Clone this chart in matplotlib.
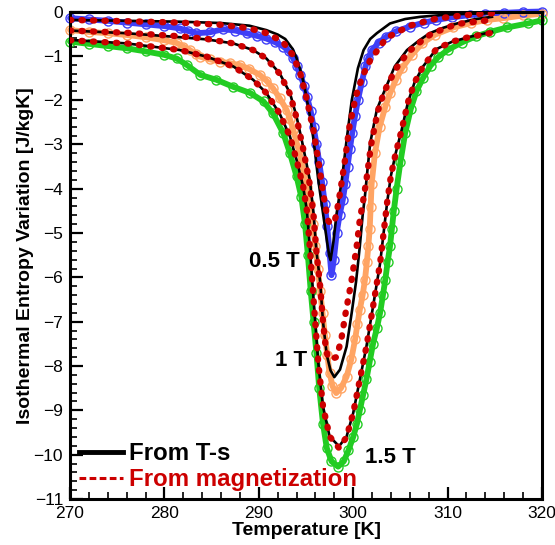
import matplotlib.pyplot as plt
from matplotlib.lines import Line2D
from matplotlib.ticker import MultipleLocator

plt.rcParams['font.family'] = ['Liberation Sans', 'DejaVu Sans']

# measured isothermal entropy change (open circles)
t_exp05 = [270, 272, 274, 276, 278, 280, 281.6, 282.5, 283.4, 284.8, 286.2, 287.5, 288.7, 289.8,
           290.8, 291.7, 292.6, 293.2, 293.65, 294.0, 294.4, 294.8, 295.1, 295.5, 295.8, 296.1,
           296.4, 296.7, 297.0, 297.25, 297.5, 297.7, 297.95, 298.25, 298.55, 298.9, 299.15,
           299.4, 299.65, 299.9, 300.2, 300.5, 300.9, 301.3, 301.6, 302.0, 302.7, 303.5, 304.5,
           306.0, 307.5, 308.8, 310.5, 312.4, 314.0, 316.0, 318.0, 320.0]
s_exp05 = [-0.15, -0.18, -0.21, -0.25, -0.29, -0.33, -0.38, -0.44, -0.49, -0.47, -0.40, -0.43,
           -0.49, -0.55, -0.61, -0.69, -0.79, -0.9, -1.06, -1.22, -1.43, -1.68, -1.92, -2.25,
           -2.6, -2.98, -3.4, -3.85, -4.35, -4.85, -5.45, -5.95, -5.6, -5.0, -4.6, -4.25, -3.9,
           -3.5, -3.1, -2.74, -2.35, -2.0, -1.6, -1.24, -1.05, -0.87, -0.7, -0.57, -0.45, -0.34,
           -0.25, -0.19, -0.13, -0.08, -0.05, -0.03, -0.01, 0.0]

t_exp10 = [270, 272, 274, 276, 278, 280, 281.3, 282.0, 282.7, 283.3, 283.8, 284.8, 285.9, 287.0,
           288.0, 289.0, 290.1, 290.8, 291.5, 292.2, 292.95, 293.3, 293.65, 294.0, 294.4, 294.75,
           295.1, 295.4, 295.7, 296.0, 296.25, 296.5, 296.75, 297.0, 297.25, 297.5, 297.8, 298.2,
           298.7, 299.3, 299.8, 300.2, 300.45, 300.7, 301.0, 301.25, 301.45, 301.6, 301.75,
           301.85, 301.95, 302.3, 302.8, 303.4, 303.9, 304.5, 305.2, 306.2, 307.3, 308.7, 310.6,
           312.5, 314.2, 315.9, 318.0, 320.0]
s_exp10 = [-0.42, -0.46, -0.49, -0.53, -0.58, -0.65, -0.71, -0.79, -0.87, -0.96, -1.02, -1.08,
           -1.13, -1.17, -1.21, -1.3, -1.43, -1.56, -1.73, -1.95, -2.22, -2.43, -2.67, -2.95,
           -3.27, -3.6, -3.95, -4.35, -4.8, -5.3, -5.8, -6.3, -6.8, -7.3, -7.75, -8.15, -8.45,
           -8.61, -8.5, -8.24, -7.85, -7.4, -7.05, -6.73, -6.4, -6.05, -5.65, -5.3, -4.9, -4.4,
           -3.9, -3.2, -2.6, -2.15, -1.85, -1.55, -1.27, -0.98, -0.72, -0.52, -0.36, -0.26,
           -0.19, -0.15, -0.09, -0.05]

t_exp15 = [270, 272, 274, 276, 278, 280, 281.3, 282.4, 283.8, 285.5, 287.3, 289.1, 290.5, 291.5,
           292.6, 293.3, 294.0, 294.5, 294.9, 295.2, 295.5, 295.8, 296.1, 296.4, 296.8, 297.2,
           297.7, 298.4, 299.0, 299.5, 300.0, 300.4, 300.7, 301.05, 301.4, 301.75, 302.1, 302.5,
           302.85, 303.15, 303.4, 303.65, 303.9, 304.1, 304.3, 304.6, 305.0, 305.5, 306.1,
           306.7, 307.4, 308.2, 309.0, 310.0, 311.5, 313.0, 314.5, 316.3, 318.5, 320.0]
s_exp15 = [-0.68, -0.73, -0.78, -0.83, -0.9, -0.98, -1.06, -1.21, -1.43, -1.54, -1.7, -1.84,
           -2.03, -2.3, -2.75, -3.2, -3.72, -4.18, -4.8, -5.5, -6.3, -7.0, -7.7, -8.5, -9.3,
           -9.85, -10.15, -10.27, -10.15, -9.9, -9.6, -9.3, -9.0, -8.65, -8.3, -7.9, -7.5,
           -7.15, -6.8, -6.4, -6.05, -5.65, -5.3, -4.9, -4.5, -4.0, -3.4, -2.75, -2.2, -1.8,
           -1.5, -1.22, -1.03, -0.87, -0.7, -0.56, -0.46, -0.36, -0.27, -0.2]

# from T-s diagram (black line)
t_ts05 = [270, 276, 281.6, 286, 289, 290.8, 292.0, 292.8, 293.6, 294.0, 294.4, 294.8, 295.1,
          295.5, 295.8, 296.3, 296.8, 297.2, 297.45, 297.6, 297.9, 298.25, 298.8, 299.3, 299.85,
          300.5, 301.1, 301.8, 302.5, 303.9, 305.5, 307.1, 310.0, 312.4, 314.7]
s_ts05 = [-0.19, -0.21, -0.23, -0.26, -0.32, -0.42, -0.52, -0.62, -0.85, -1.05, -1.32, -1.65,
          -2.0, -2.45, -2.9, -3.8, -4.55, -5.15, -5.5, -5.61, -5.2, -4.55, -3.8, -2.9, -2.0,
          -1.28, -0.87, -0.62, -0.49, -0.27, -0.17, -0.12, -0.07, -0.05, -0.04]

t_ts10 = [270, 276, 281.65, 284.5, 287.3, 289.4, 290.8, 292.2, 293.3, 294.0, 294.7, 295.4,
          295.8, 296.1, 296.5, 296.8, 297.2, 297.6, 298.0, 298.6, 299.3, 299.84, 300.3, 300.7,
          301.0, 301.25, 301.5, 301.8, 302.5, 303.0, 304.4, 305.7, 307.0, 308.1, 309.5, 311.0,
          313.0, 314.7]
s_ts10 = [-0.43, -0.49, -0.58, -0.63, -0.72, -0.87, -1.06, -1.39, -1.84, -2.37, -3.05, -3.8,
          -4.55, -5.4, -6.1, -7.0, -7.75, -8.1, -8.25, -8.08, -7.56, -6.8, -6.1, -5.3, -4.6,
          -4.15, -3.6, -2.97, -2.22, -1.95, -1.24, -0.87, -0.65, -0.49, -0.37, -0.27, -0.17,
          -0.12]

t_ts15 = [270, 276, 281.65, 284.5, 287.3, 289.4, 290.8, 292.2, 293.3, 294.0, 294.7, 295.1,
          295.4, 295.8, 296.3, 296.8, 297.5, 298.5, 299.3, 300.0, 300.7, 301.4, 302.1, 302.85,
          303.6, 304.0, 304.5, 305.1, 305.8, 306.5, 307.4, 308.8, 310.5, 312.4, 314.7]
s_ts15 = [-0.64, -0.72, -0.87, -1.02, -1.24, -1.54, -1.84, -2.3, -2.82, -3.35, -3.95, -4.5,
          -5.3, -6.5, -7.93, -8.91, -9.59, -9.81, -9.59, -9.06, -8.31, -7.56, -6.66, -5.68,
          -4.3, -3.7, -3.2, -2.7, -2.05, -1.6, -1.24, -0.85, -0.68, -0.57, -0.46]

# from magnetization (red dots)
t_mag05 = [270, 276, 281.6, 286, 289, 291, 292.6, 293.6, 294.4, 295.1, 295.8, 296.4, 296.9,
           297.3, 297.5, 297.7, 297.95, 298.2, 298.6, 299.1, 299.6, 300.3, 301.0, 301.8, 303.5,
           306.0, 308.8, 312.4, 314.7]
s_mag05 = [-0.19, -0.22, -0.25, -0.3, -0.38, -0.5, -0.7, -0.98, -1.4, -2.0, -2.7, -3.5, -4.2,
           -4.7, -4.77, -4.78, -4.77, -4.6, -4.1, -3.4, -2.6, -1.9, -1.45, -1.1, -0.6, -0.32,
           -0.16, -0.07, -0.04]

t_mag10 = [270, 276, 281.65, 284.5, 287.3, 289.4, 290.8, 292.2, 293.3, 294.0, 294.7, 295.4,
           295.8, 296.1, 296.5, 296.8, 297.1, 297.35, 297.8, 298.2, 298.7, 299.2, 299.8, 300.37,
           300.7, 301.07, 301.4, 301.9, 302.6, 303.3, 304.5, 305.8, 307.2, 308.3, 311.0, 314.7]
s_mag10 = [-0.43, -0.48, -0.56, -0.62, -0.72, -0.87, -1.06, -1.4, -1.86, -2.4, -3.1, -3.9,
           -4.6, -5.4, -6.2, -7.0, -7.6, -7.82, -7.83, -7.8, -7.45, -6.8, -6.1, -5.3, -4.7,
           -4.25, -3.8, -3.0, -2.25, -1.8, -1.3, -0.92, -0.67, -0.5, -0.28, -0.19]

t_mag15 = [270, 276, 281.65, 284.5, 287.3, 289.4, 290.8, 292.2, 293.3, 294.0, 294.7, 295.1,
           295.4, 295.8, 296.3, 296.8, 297.5, 298.5, 299.3, 300.0, 300.7, 301.4, 302.1, 302.85,
           303.6, 304.0, 304.5, 305.1, 305.8, 306.5, 307.4, 308.8, 310.5, 312.4, 314.7]
s_mag15 = [-0.65, -0.72, -0.87, -1.02, -1.24, -1.54, -1.84, -2.3, -2.82, -3.35, -3.95, -4.5,
           -5.3, -6.5, -7.93, -8.91, -9.59, -9.85, -9.6, -9.06, -8.31, -7.56, -6.66, -5.68,
           -4.3, -3.7, -3.2, -2.7, -2.05, -1.6, -1.24, -0.85, -0.68, -0.57, -0.48]

exp_colors = ['#3f3ff7', '#ffa463', '#22cc22']
red = '#cc0000'

fig = plt.figure(figsize=(5.55, 5.45), dpi=100)
ax = fig.add_axes([70 / 555, 46 / 545, 472 / 555, 487.5 / 545])

for t, s, c in zip([t_exp05, t_exp10, t_exp15], [s_exp05, s_exp10, s_exp15], exp_colors):
    ax.plot(t, s, color=c, lw=4.2, solid_capstyle='round', zorder=2, clip_on=False)
    ax.plot(t, s, ls='none', marker='o', ms=6.5, mfc='none', mec=c, mew=1.0, zorder=2.5,
            clip_on=False)

for t, s in zip([t_ts05, t_ts10, t_ts15], [s_ts05, s_ts10, s_ts15]):
    ax.plot(t, s, color='black', lw=1.9, zorder=3)

for t, s in zip([t_mag05, t_mag10, t_mag15], [s_mag05, s_mag10, s_mag15]):
    ax.plot(t, s, color=red, lw=4.6, ls=(0, (0.2, 1.6)), dash_capstyle='round', zorder=4)

ax.text(291.6, -5.63, '0.5 T', fontsize=16, fontweight='bold', ha='center', va='center')
ax.text(293.4, -7.88, '1 T', fontsize=16, fontweight='bold', ha='center', va='center')
ax.text(303.9, -10.07, '1.5 T', fontsize=16, fontweight='bold', ha='center', va='center')

ax.set_xlim(270, 320)
ax.set_ylim(-11, 0)
ax.xaxis.set_major_locator(MultipleLocator(10))
ax.xaxis.set_minor_locator(MultipleLocator(2))
ax.yaxis.set_major_locator(MultipleLocator(1))
ax.yaxis.set_minor_locator(MultipleLocator(0.2))
ax.tick_params(which='both', direction='in', top=False, right=False, labelsize=12.5)
ax.tick_params(which='major', length=9, width=1.6, pad=5)
ax.tick_params(which='minor', length=5, width=1.2)
for sp in ax.spines.values():
    sp.set_linewidth(2.2)

ax.set_xlabel('Temperature [K]', fontsize=14, fontweight='bold', labelpad=1)
ax.set_ylabel('Isothermal Entropy Variation [J/kgK]', fontsize=14, fontweight='bold',
              labelpad=0)

handles = [Line2D([], [], color='black', lw=3.5),
           Line2D([], [], color=red, lw=2.2, ls=(0, (2.2, 1.1)))]
leg = ax.legend(handles, ['From T-s', 'From magnetization'], loc='lower left',
                bbox_to_anchor=(0.02, 0.016), frameon=False, handlelength=1.8,
                handletextpad=0.25, labelspacing=0.12, borderpad=0, borderaxespad=0,
                prop={'size': 17.3, 'weight': 'bold'})
leg.get_texts()[1].set_color(red)

fig.savefig('out.png', dpi=100)
